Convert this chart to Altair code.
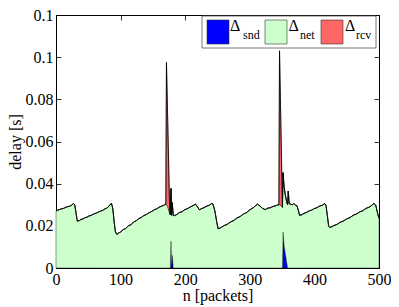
import altair as alt
import pandas as pd

# packet index and network delay (s)
n_net = [0, 3, 6, 9, 12, 15, 18, 21, 24, 27, 29, 31, 33,
         36, 39, 42, 45, 48, 51, 54, 57, 60, 63, 66, 69, 72, 75, 78, 81, 84, 86, 88, 90, 92, 94,
         97, 100, 104, 108, 112, 116, 120, 124, 128, 132, 136, 140, 144, 148, 152, 156, 160, 164, 167, 170,
         171, 173, 175, 176, 177, 178, 179, 180, 181.5, 183,
         187, 191, 195, 199, 203, 207, 211, 214, 216, 219, 222, 225, 229, 233, 237, 241, 243, 246, 249, 251,
         255, 260, 265, 270, 275, 280, 285, 290, 295, 300, 305, 309, 312, 316, 320, 324, 328, 332, 336, 340, 343, 345,
         346, 348, 350, 350.5, 351.5, 353, 355, 357, 358.5, 359.5, 361, 363, 366, 368, 371, 373, 375, 377,
         380, 384, 388, 392, 396, 400, 404, 408, 412, 416, 418, 420, 422, 424,
         430, 435, 440, 445, 450, 455, 460, 465, 470, 475, 480, 485, 489, 492, 495, 497, 500]
net = [.0270, .0275, .0278, .0281, .0283, .0288, .0291, .0293, .0298, .0305, .0300, .0262, .0222,
       .0225, .0231, .0233, .0239, .0241, .0247, .0249, .0254, .0258, .0261, .0266, .0270, .0273, .0279, .0283, .0290, .0302, .0306, .0280, .0220, .0172, .0160,
       .0166, .0171, .0182, .0188, .0200, .0205, .0218, .0224, .0234, .0240, .0249, .0254, .0262, .0268, .0276, .0281, .0289, .0294, .0298, .0304,
       .0300, .0290, .0268, .0262, .0252, .0250, .0250, .0250, .0250, .0248,
       .0254, .0263, .0267, .0276, .0281, .0288, .0294, .0299, .0303, .0290, .0276, .0281, .0286, .0293, .0297, .0306, .0303, .0270, .0215, .0186,
       .0191, .0201, .0207, .0218, .0225, .0237, .0244, .0256, .0263, .0276, .0285, .0296, .0303, .0293, .0282, .0277, .0284, .0286, .0292, .0295, .0299, .0300,
       .0300, .0296, .0290, .0288, .0282, .0278, .0276, .0285, .0300, .0365, .0305, .0303, .0300, .0306, .0298, .0296, .0275, .0250,
       .0252, .0259, .0264, .0271, .0275, .0282, .0286, .0294, .0297, .0306, .0296, .0250, .0200, .0192,
       .0201, .0207, .0217, .0223, .0233, .0239, .0250, .0256, .0266, .0272, .0283, .0289, .0298, .0306, .0298, .0270, .0235]
assert len(n_net) == len(net)

# sender delay spikes (s)
snd_n = [177, 178, 180, 181.5, 350.5, 351.5, 353, 355, 357, 358.5]
snd_v = [0, .0127, .0060, 0, 0, .0170, .0110, .0070, .0030, 0]
# receiver delay spikes (s)
rcv_n = [170, 171, 173, 175, 176, 345, 346, 348, 350, 350.5]
rcv_v = [0, .0675, .0400, .0136, 0, 0, .0730, .0404, .0080, 0]

snd_map = dict(zip(snd_n, snd_v))
rcv_map = dict(zip(rcv_n, rcv_v))
snd = [snd_map.get(k, 0.0) for k in n_net]
rcv = [rcv_map.get(k, 0.0) for k in n_net]

series = ["snd", "net", "rcv"]
colors = ["#0000FF", "#CCFFCC", "#FF6666"]

rows = []
for i, k in enumerate(n_net):
    rows.append({"n": k, "s": "snd", "o": 0, "v": snd[i]})
    rows.append({"n": k, "s": "net", "o": 1, "v": net[i]})
    rows.append({"n": k, "s": "rcv", "o": 2, "v": rcv[i]})
long_df = pd.DataFrame(rows)
tot_df = pd.DataFrame({"n": n_net, "t": [a + b + c for a, b, c in zip(snd, net, rcv)]})

FONT = "'Liberation Serif', 'Times New Roman', serif"
xs = alt.Scale(domain=[0, 500], nice=False)
ys = alt.Scale(domain=[0, 0.12], nice=False)

area = alt.Chart(long_df).mark_area(interpolate="linear", stroke="black", strokeWidth=0.4).encode(
    x=alt.X("n:Q", scale=xs, title="n [packets]",
            axis=alt.Axis(orient="bottom", values=[0, 100, 200, 300, 400, 500], offset=-5,
                          tickSize=5, domain=False, grid=False, labelPadding=3, titlePadding=0,
                          labelFlush=False, labelFont=FONT, titleFont=FONT)),
    y=alt.Y("v:Q", stack="zero", scale=ys, title="delay [s]",
            axis=alt.Axis(orient="left", values=[0, 0.02, 0.04, 0.06, 0.08, 0.1, 0.12], format="~g",
                          offset=-5, tickSize=5, domain=False, grid=False, labelPadding=3, titlePadding=2,
                          labelFlush=False, labelFont=FONT, titleFont=FONT)),
    color=alt.Color("s:N", scale=alt.Scale(domain=series, range=colors), legend=None),
    order=alt.Order("o:Q"),
)

line = alt.Chart(tot_df).mark_line(color="black", strokeWidth=0.8).encode(
    x=alt.X("n:Q", scale=xs,
            axis=alt.Axis(orient="top", values=[0, 100, 200, 300, 400, 500], offset=-5, tickSize=5,
                          domain=False, grid=False, labels=False, title=None)),
    y=alt.Y("t:Q", scale=ys,
            axis=alt.Axis(orient="right", values=[0, 0.02, 0.04, 0.06, 0.08, 0.1, 0.12], offset=-5,
                          tickSize=5, domain=False, grid=False, labels=False, title=None)),
)

one = pd.DataFrame({"a": [0]})
legend_layers = [
    alt.Chart(one).mark_rect(fill="white", stroke="#555555", strokeWidth=0.8).encode(
        x=alt.value(146), x2=alt.value(320), y=alt.value(1), y2=alt.value(33))
]
sw_x = [151, 209, 265]
d_x = [174, 232.5, 289]
sub_x = [187, 244, 300]
for i, s in enumerate(series):
    legend_layers.append(alt.Chart(one).mark_rect(fill=colors[i], stroke="#333333", strokeWidth=0.6).encode(
        x=alt.value(sw_x[i]), x2=alt.value(sw_x[i] + 22), y=alt.value(5), y2=alt.value(29)))
    legend_layers.append(alt.Chart(one).mark_text(text="Δ", font=FONT, fontSize=16, align="left",
                                                  baseline="alphabetic", color="black").encode(
        x=alt.value(d_x[i]), y=alt.value(16)))
    legend_layers.append(alt.Chart(one).mark_text(text=s, font=FONT, fontSize=12, align="left",
                                                  baseline="alphabetic", color="black").encode(
        x=alt.value(sub_x[i]), y=alt.value(24)))

chart = alt.layer(area, line, *legend_layers).properties(
    width=323, height=253,
    padding={"left": 48, "top": 7, "right": 12, "bottom": 38},
    autosize=alt.AutoSizeParams(type="none"),
    background="white",
).configure_view(stroke="black", strokeWidth=1).configure_axis(
    labelFont=FONT, titleFont=FONT, labelFontSize=16, titleFontSize=16, labelColor="black",
    titleColor="black", titleFontWeight="normal", tickColor="black", tickWidth=0.8,
)

chart.save("out.html", embed_options={"renderer": "svg", "actions": False})
